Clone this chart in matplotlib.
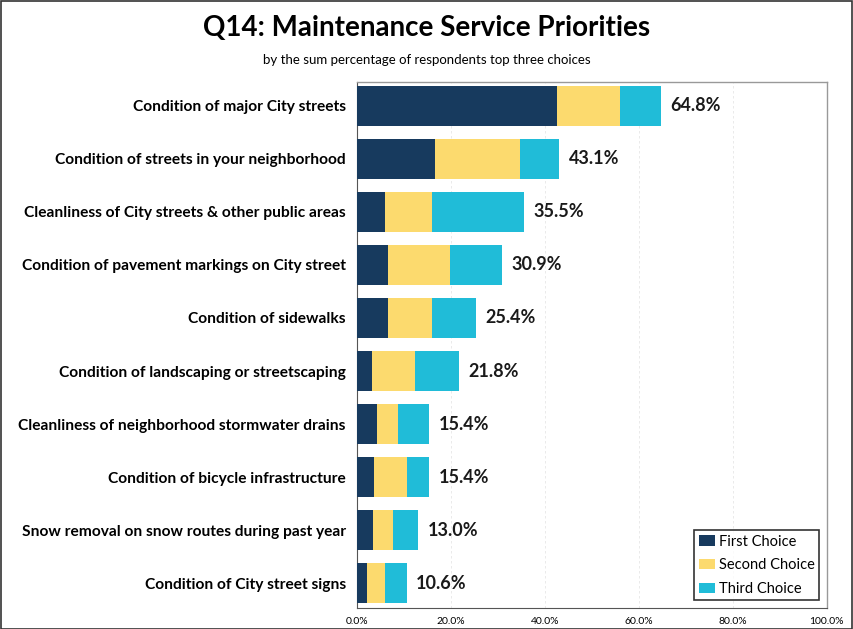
import matplotlib
matplotlib.use("Agg")
import matplotlib.pyplot as plt
import matplotlib.patches as mpatches
import numpy as np

plt.rcParams["font.family"] = ["Lato", "DejaVu Sans"]

categories = [
    "Condition of major City streets",
    "Condition of streets in your neighborhood",
    "Cleanliness of City streets & other public areas",
    "Condition of pavement markings on City street",
    "Condition of sidewalks",
    "Condition of landscaping or streetscaping",
    "Cleanliness of neighborhood stormwater drains",
    "Condition of bicycle infrastructure",
    "Snow removal on snow routes during past year",
    "Condition of City street signs",
]
first_choice = [42.6, 16.7, 6.0, 6.6, 6.6, 3.1, 4.3, 3.6, 3.5, 2.1]
second_choice = [13.3, 18.1, 10.0, 13.3, 9.4, 9.2, 4.5, 7.1, 4.2, 3.9]
third_choice = [8.9, 8.3, 19.5, 11.0, 9.4, 9.5, 6.6, 4.7, 5.3, 4.6]
totals = [64.8, 43.1, 35.5, 30.9, 25.4, 21.8, 15.4, 15.4, 13.0, 10.6]
series_names = ["First Choice", "Second Choice", "Third Choice"]
colors = ["#173a5e", "#fcda6e", "#20bcd8"]

fig = plt.figure(figsize=(8.54, 6.29), dpi=100)
ax = fig.add_axes([0.418, 0.033, 0.550, 0.837])

y = np.arange(len(categories))
left = np.zeros(len(categories))
for vals, name, col in zip([first_choice, second_choice, third_choice], series_names, colors):
    ax.barh(y, vals, left=left, height=0.75, color=col, label=name, zorder=3)
    left += np.array(vals)

for i, t in enumerate(totals):
    ax.text(t + 2.0, i, f"{t:.1f}%", va="center", ha="left",
            fontsize=13, fontweight="bold", color="#1a1a1a")

ax.set_ylim(9.47, -0.45)
ax.set_xlim(0, 100)
ax.set_yticks(y)
ax.set_yticklabels(categories, fontsize=11.2, fontweight="bold")
ax.set_xticks(np.arange(0, 101, 20))
ax.set_xticklabels([f"{v:.1f}%" for v in np.arange(0, 101, 20)], fontsize=7.5)
ax.tick_params(axis="both", length=0)
ax.tick_params(axis="y", pad=8)
ax.tick_params(axis="x", pad=6)
ax.grid(axis="x", color="#e6e6e6", linewidth=0.6, linestyle=(0, (3, 3)), zorder=0)

for side in ["top", "right"]:
    ax.spines[side].set_color("#999999")
    ax.spines[side].set_linewidth(1.0)
ax.spines["left"].set_color("#555555")
ax.spines["bottom"].set_color("#555555")

leg = ax.legend(loc="lower right", fontsize=10.5, frameon=True, fancybox=False,
                edgecolor="black", handlelength=1.1, handleheight=0.7,
                handletextpad=0.3, borderpad=0.3, labelspacing=0.66,
                borderaxespad=0.4, bbox_to_anchor=(0.997, 0.004))
leg.get_frame().set_linewidth(1.2)

fig.text(0.5, 0.955, "Q14: Maintenance Service Priorities", ha="center", va="center",
         fontsize=20, fontweight="bold")
fig.text(0.5, 0.904, "by the sum percentage of respondents top three choices",
         ha="center", va="center", fontsize=9.5)

fig.patches.append(mpatches.Rectangle((0.001, 0.0), 0.997, 0.998, transform=fig.transFigure,
                                      fill=False, edgecolor="#333333", linewidth=1.2))

fig.savefig("out.png", dpi=100)
